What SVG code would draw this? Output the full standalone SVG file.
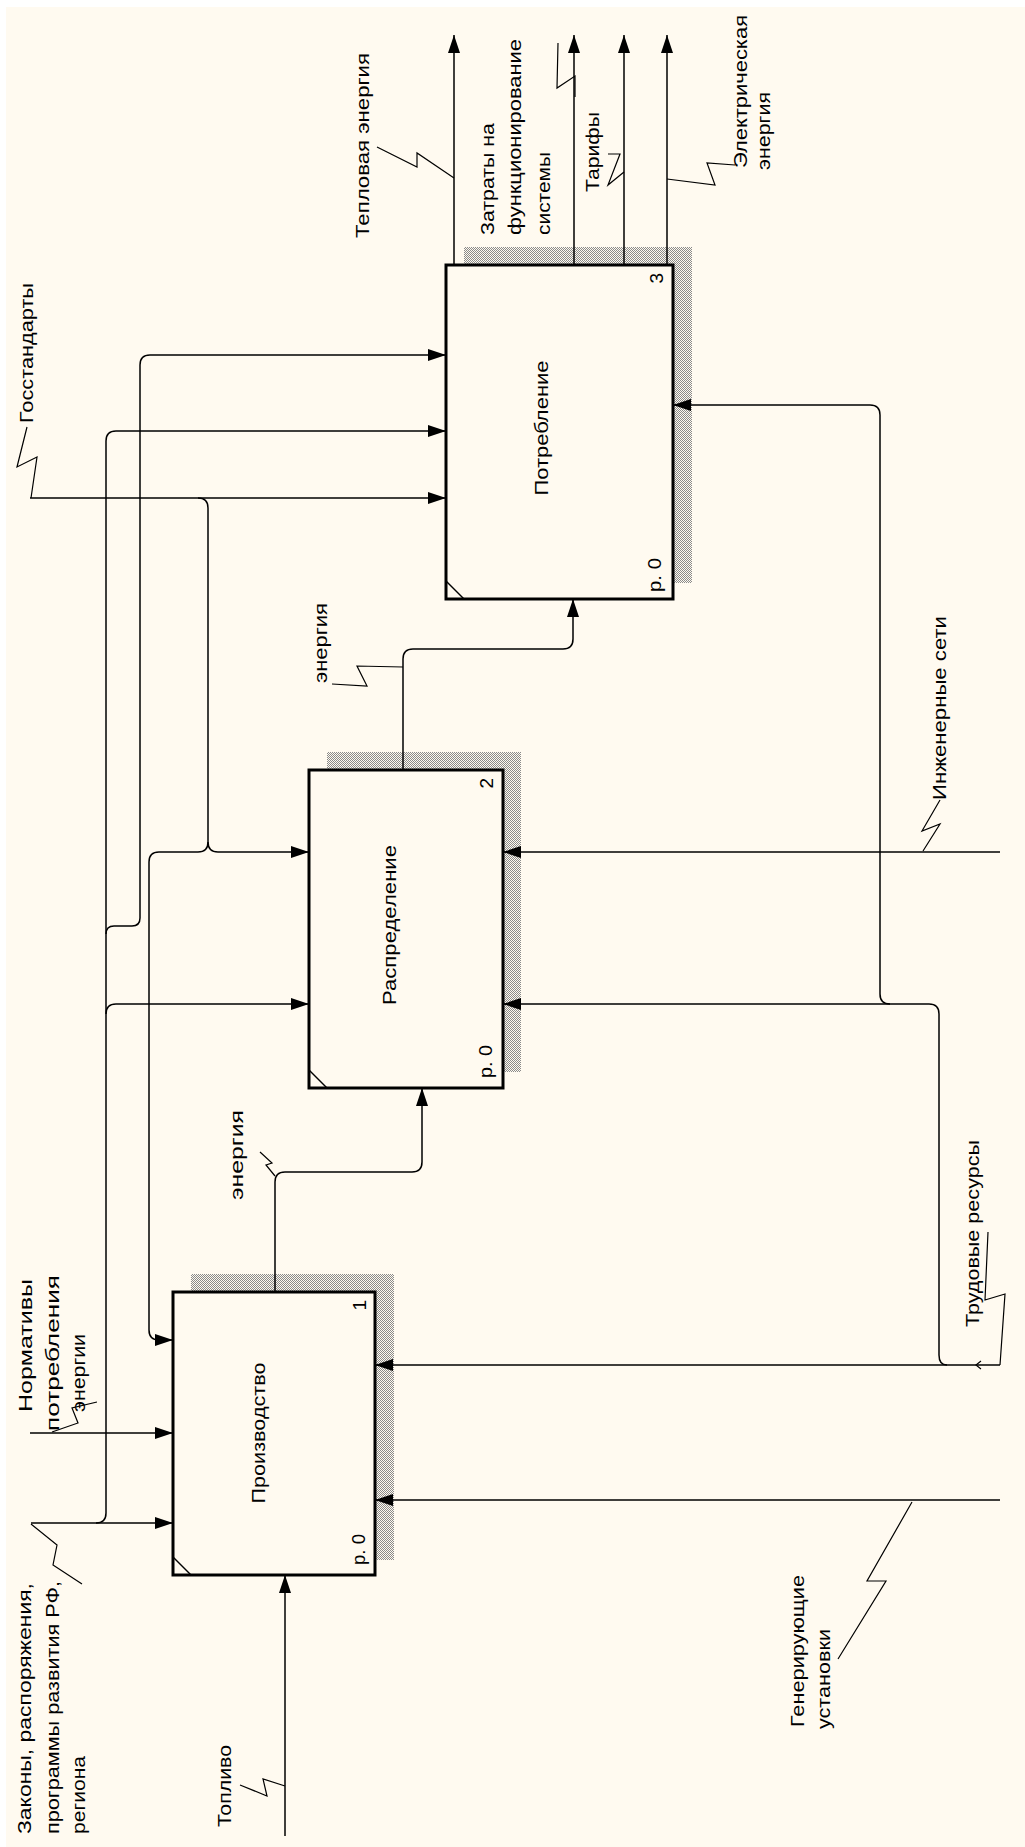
<svg xmlns="http://www.w3.org/2000/svg" width="1025" height="1847" viewBox="0 0 1025 1847">
<style>
.bg{fill:#FFFAF0}
.box{fill:#FFFAF0;stroke:#000;stroke-width:3}
.shadow{fill:url(#hatch)}
.ln{fill:none;stroke:#000;stroke-width:1.5}
.sq{fill:none;stroke:#000;stroke-width:1.2}
.arr{marker-end:url(#ah)}
text{font-family:"Liberation Sans",Arial,sans-serif;font-size:19px;fill:#000}
.mid{text-anchor:middle}
.end{text-anchor:end}
</style>
<defs>
<pattern id="hatch" width="2" height="2" patternUnits="userSpaceOnUse">
<rect width="2" height="2" fill="#FFFAF0"/>
<rect width="1" height="1" fill="#8a8a8a"/>
<rect x="1" y="1" width="1" height="1" fill="#8a8a8a"/>
</pattern>
<marker id="ah" viewBox="0 0 18 12" refX="18" refY="6" markerWidth="18" markerHeight="12" markerUnits="userSpaceOnUse" orient="auto">
<path d="M0,0 L18,6 L0,12 Z" fill="#000"/>
</marker>
</defs>
<rect x="0" y="0" width="1025" height="1847" fill="#fff"/>
<rect class="bg" x="6" y="7" width="1019" height="1840"/>

<g id="node1">
<rect class="shadow" x="191" y="1274" width="203" height="286"/>
<rect class="box" x="173" y="1292" width="202" height="283"/>
<path class="ln" d="M173,1557 L191,1575" stroke-width="2"/>
<text class="mid" transform="translate(265,1433) rotate(-90)" textLength="141" lengthAdjust="spacingAndGlyphs">Производство</text>
<text class="end" transform="translate(366,1300) rotate(-90)">1</text>
<text transform="translate(365,1565) rotate(-90)" textLength="31" lengthAdjust="spacingAndGlyphs">р. 0</text>
</g>

<g id="node2">
<rect class="shadow" x="327" y="752" width="194" height="320"/>
<rect class="box" x="309" y="770" width="194" height="318"/>
<path class="ln" d="M309,1070 L327,1088" stroke-width="2"/>
<text class="mid" transform="translate(396,925) rotate(-90)" textLength="160" lengthAdjust="spacingAndGlyphs">Распределение</text>
<text class="end" transform="translate(493,778) rotate(-90)">2</text>
<text transform="translate(492,1078) rotate(-90)" textLength="33" lengthAdjust="spacingAndGlyphs">р. 0</text>
</g>

<g id="node3">
<rect class="shadow" x="464" y="247" width="228" height="336"/>
<rect class="box" x="446" y="265" width="227" height="334"/>
<path class="ln" d="M446,581 L464,599" stroke-width="2"/>
<text class="mid" transform="translate(548,428) rotate(-90)" textLength="135" lengthAdjust="spacingAndGlyphs">Потребление</text>
<text class="end" transform="translate(663,273) rotate(-90)">3</text>
<text transform="translate(661,592) rotate(-90)" textLength="34" lengthAdjust="spacingAndGlyphs">р. 0</text>
</g>

<g id="connectors">
<path class="ln arr" d="M30,498 H446"/>
<path class="ln arr" d="M198,498 Q208,498 208,508 V842 Q208,852 218,852 H309"/>
<path class="ln arr" d="M208,842 Q208,852 198,852 H159 Q149,852 149,862 V1330 Q149,1340 159,1340 H173"/>
<path class="ln arr" d="M31,1523 H173"/>
<path class="ln arr" d="M96,1523 Q106,1523 106,1513 V441 Q106,431 116,431 H446"/>
<path class="ln arr" d="M106,1014 Q106,1004 116,1004 H309"/>
<path class="ln arr" d="M106,934 Q106,926 114,926 H132 Q140,926 140,918 V365 Q140,355 150,355 H446"/>
<path class="ln arr" d="M30,1433 H173"/>
<path class="ln arr" d="M285,1836 V1575"/>
<path class="ln arr" d="M275,1292 V1182 Q275,1172 285,1172 H412 Q422,1172 422,1162 V1088"/>
<path class="ln arr" d="M403,770 V659 Q403,649 413,649 H563 Q573,649 573,639 V599"/>
<path class="ln arr" d="M454,265 V35"/>
<path class="ln arr" d="M574,265 V35"/>
<path class="ln arr" d="M624,265 V35"/>
<path class="ln arr" d="M667,265 V35"/>
<path class="ln arr" d="M1000,852 H503"/>
<path class="ln arr" d="M1000,1365 H375"/>
<path class="ln arr" d="M947,1365 Q939,1365 939,1355 V1014 Q939,1004 929,1004 H503"/>
<path class="ln arr" d="M890,1004 Q880,1004 880,994 V415 Q880,405 870,405 H673"/>
<path class="sq" d="M981,1361 L976,1365 L981,1369"/>
<path class="ln arr" d="M1000,1500 H375"/>

<path class="sq" d="M31,498 L37,457 L17,467 L27,427"/>
<path class="sq" d="M31,1524 L57,1545 L53,1565 L82,1584"/>
<path class="sq" d="M52,1432 L78,1423 L72,1408 L97,1402"/>
<path class="sq" d="M240,1785 L267,1796 L263,1779 L285,1786"/>
<path class="sq" d="M260,1152 L272,1163 L266,1165 L275,1176"/>
<path class="sq" d="M332,684 L367,686 L357,666 L403,667"/>
<path class="sq" d="M377,147 L417,167 L417,153 L454,178"/>
<path class="sq" d="M558,43 L557,88 L575,76 L575,97"/>
<path class="sq" d="M608,154 L620,154 L608,185 L624,172"/>
<path class="sq" d="M667,179 L715,185 L707,163 L735,165"/>
<path class="sq" d="M923,851 L940,824 L922,831 L940,800"/>
<path class="sq" d="M988,1232 L985,1300 L1005,1294 L1000,1365"/>
<path class="sq" d="M912,1502 L867,1581 L886,1581 L838,1659"/>
</g>

<g id="labels">
<text transform="translate(33,423) rotate(-90)" textLength="140" lengthAdjust="spacingAndGlyphs">Госстандарты</text>
<text transform="translate(31,1834) rotate(-90)" textLength="251" lengthAdjust="spacingAndGlyphs">Законы, распоряжения,</text>
<text transform="translate(59,1834) rotate(-90)" textLength="253" lengthAdjust="spacingAndGlyphs">программы развития РФ,</text>
<text transform="translate(85,1834) rotate(-90)" textLength="78" lengthAdjust="spacingAndGlyphs">региона</text>
<text transform="translate(32,1412) rotate(-90)" textLength="133" lengthAdjust="spacingAndGlyphs">Нормативы</text>
<text transform="translate(59,1431) rotate(-90)" textLength="156" lengthAdjust="spacingAndGlyphs">потребления</text>
<text transform="translate(85,1412) rotate(-90)" textLength="78" lengthAdjust="spacingAndGlyphs">энергии</text>
<text transform="translate(231,1827) rotate(-90)" textLength="82" lengthAdjust="spacingAndGlyphs">Топливо</text>
<text transform="translate(243,1200) rotate(-90)" textLength="90" lengthAdjust="spacingAndGlyphs">энергия</text>
<text transform="translate(327,683) rotate(-90)" textLength="80" lengthAdjust="spacingAndGlyphs">энергия</text>
<text transform="translate(369,238) rotate(-90)" textLength="185" lengthAdjust="spacingAndGlyphs">Тепловая энергия</text>
<text transform="translate(494,235) rotate(-90)" textLength="112" lengthAdjust="spacingAndGlyphs">Затраты на</text>
<text transform="translate(521,235) rotate(-90)" textLength="196" lengthAdjust="spacingAndGlyphs">функционирование</text>
<text transform="translate(550,235) rotate(-90)" textLength="83" lengthAdjust="spacingAndGlyphs">системы</text>
<text transform="translate(599,192) rotate(-90)" textLength="80" lengthAdjust="spacingAndGlyphs">Тарифы</text>
<text transform="translate(747,168) rotate(-90)" textLength="153" lengthAdjust="spacingAndGlyphs">Электрическая</text>
<text transform="translate(770,170) rotate(-90)" textLength="78" lengthAdjust="spacingAndGlyphs">энергия</text>
<text transform="translate(946,800) rotate(-90)" textLength="184" lengthAdjust="spacingAndGlyphs">Инженерные сети</text>
<text transform="translate(979,1327) rotate(-90)" textLength="187" lengthAdjust="spacingAndGlyphs">Трудовые ресурсы</text>
<text transform="translate(804,1727) rotate(-90)" textLength="152" lengthAdjust="spacingAndGlyphs">Генерирующие</text>
<text transform="translate(830,1729) rotate(-90)" textLength="100" lengthAdjust="spacingAndGlyphs">установки</text>
</g>
</svg>
